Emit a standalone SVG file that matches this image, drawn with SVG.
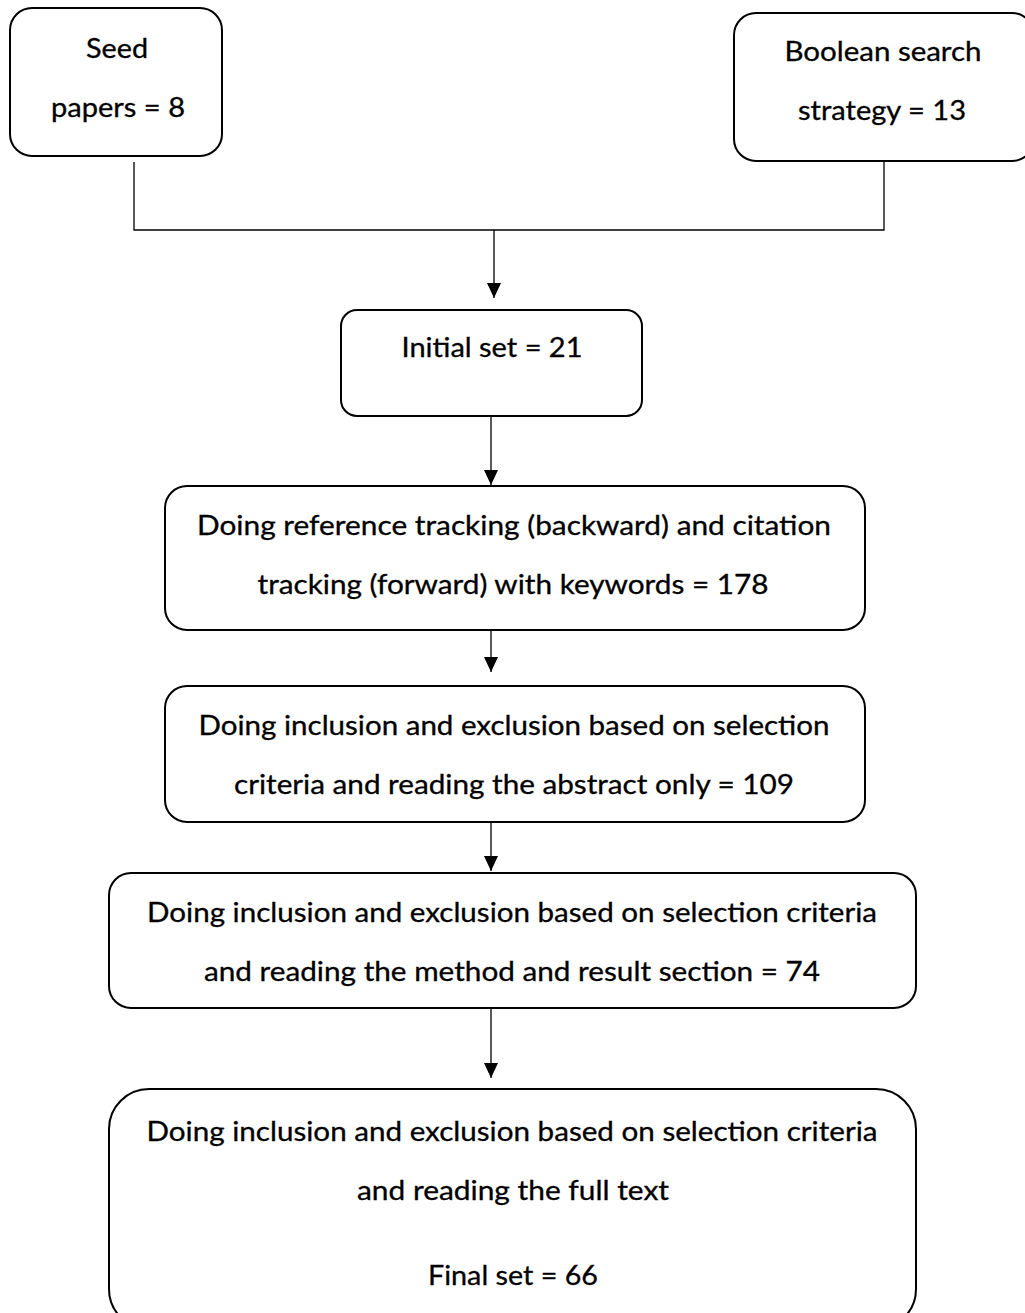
<svg xmlns="http://www.w3.org/2000/svg" width="1025" height="1313" viewBox="0 0 1025 1313">
<style>
.box{fill:#fff;stroke:#000;stroke-width:2}
.t{font-family:Lato,"Open Sans","Liberation Sans",sans-serif;font-size:26px;fill:#000;stroke:#000;stroke-width:0.3;text-anchor:middle}
.c{fill:none;stroke:#000;stroke-width:1.3}
</style>
<defs>
<marker id="ah" markerWidth="15" markerHeight="14" refX="15" refY="7" orient="auto" markerUnits="userSpaceOnUse" viewBox="0 0 15 14">
<path d="M0,0 L15,7 L0,14 Z" fill="#000"/>
</marker>
</defs>
<rect width="1025" height="1313" fill="#fff"/>
<g id="connectors">
<path class="c" d="M134,162 V230 H884 V162"/>
<path class="c" d="M494,230 V298" marker-end="url(#ah)"/>
<path class="c" d="M491,416 V485" marker-end="url(#ah)"/>
<path class="c" d="M491,630 V672" marker-end="url(#ah)"/>
<path class="c" d="M491,822 V871" marker-end="url(#ah)"/>
<path class="c" d="M491,1008 V1078" marker-end="url(#ah)"/>
</g>
<g id="seed">
<rect class="box" x="10" y="8" width="212" height="148" rx="22"/>
<text class="t" x="117" y="58" textLength="62" lengthAdjust="spacingAndGlyphs">Seed</text>
<text class="t" x="118" y="117" textLength="134" lengthAdjust="spacingAndGlyphs">papers = 8</text>
</g>
<g id="boolean">
<rect class="box" x="734" y="13" width="300" height="148" rx="22"/>
<text class="t" x="883" y="61" textLength="197" lengthAdjust="spacingAndGlyphs">Boolean search</text>
<text class="t" x="882" y="120" textLength="168" lengthAdjust="spacingAndGlyphs">strategy = 13</text>
</g>
<g id="initial">
<rect class="box" x="341" y="310" width="301" height="106" rx="16"/>
<text class="t" x="492" y="357" textLength="181" lengthAdjust="spacingAndGlyphs">Initial set = 21</text>
</g>
<g id="tracking">
<rect class="box" x="165" y="486" width="700" height="144" rx="22"/>
<text class="t" x="514" y="535" textLength="634" lengthAdjust="spacingAndGlyphs">Doing reference tracking (backward) and citation</text>
<text class="t" x="513" y="594" textLength="511" lengthAdjust="spacingAndGlyphs">tracking (forward) with keywords = 178</text>
</g>
<g id="abstract">
<rect class="box" x="165" y="686" width="700" height="136" rx="22"/>
<text class="t" x="514" y="735" textLength="631" lengthAdjust="spacingAndGlyphs">Doing inclusion and exclusion based on selection</text>
<text class="t" x="514" y="794" textLength="560" lengthAdjust="spacingAndGlyphs">criteria and reading the abstract only = 109</text>
</g>
<g id="method">
<rect class="box" x="109" y="873" width="807" height="135" rx="22"/>
<text class="t" x="512" y="922" textLength="730" lengthAdjust="spacingAndGlyphs">Doing inclusion and exclusion based on selection criteria</text>
<text class="t" x="512" y="981" textLength="616" lengthAdjust="spacingAndGlyphs">and reading the method and result section = 74</text>
</g>
<g id="final">
<rect class="box" x="109" y="1089" width="807" height="240" rx="40"/>
<text class="t" x="512" y="1141" textLength="731" lengthAdjust="spacingAndGlyphs">Doing inclusion and exclusion based on selection criteria</text>
<text class="t" x="513" y="1200" textLength="312" lengthAdjust="spacingAndGlyphs">and reading the full text</text>
<text class="t" x="513" y="1285" textLength="170" lengthAdjust="spacingAndGlyphs">Final set = 66</text>
</g>
</svg>
